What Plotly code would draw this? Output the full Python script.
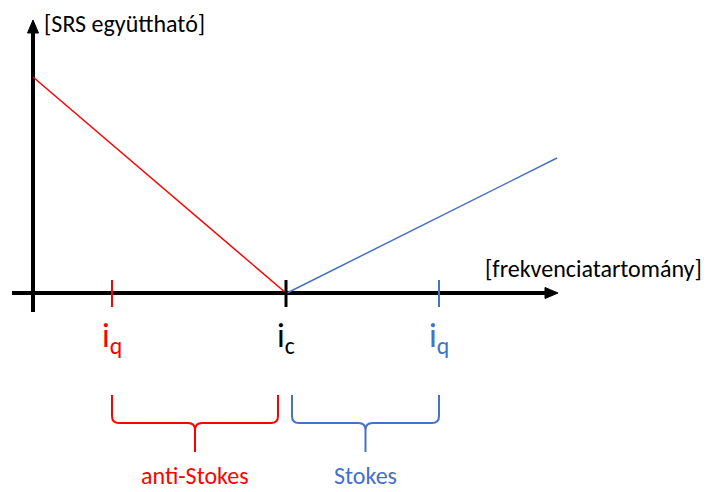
import plotly.graph_objects as go

# schematic units: origin where the two axes cross, 1 unit ~ 1 px, y upward
x_axis_span = [-21, 514]
y_axis_span = [-19, 262]
ic_pos = 253
iq_positions = [79, 406]
iq_colors = ["#FF0000", "#4472C4"]

anti_stokes_x = [0, 253]
anti_stokes_y = [216, 0]
stokes_x = [254, 524]
stokes_y = [0, 135]

brace_spans = [[79, 245], [259, 406]]
brace_labels = ["anti-Stokes", "Stokes"]
brace_colors = ["#FF0000", "#4472C4"]

y_title = "[SRS együttható]"
x_title = "[frekvenciatartomány]"

FONT = "Calibri, Carlito, Lato, sans-serif"
RED = "#FF0000"
BLUE = "#4472C4"

fig = go.Figure()

# axes
fig.add_trace(go.Scatter(x=x_axis_span, y=[0, 0], mode="lines",
                         line=dict(color="black", width=4), hoverinfo="skip"))
fig.add_trace(go.Scatter(x=[0, 0], y=y_axis_span, mode="lines",
                         line=dict(color="black", width=4), hoverinfo="skip"))

# coefficient lines
fig.add_trace(go.Scatter(x=anti_stokes_x, y=anti_stokes_y, mode="lines",
                         line=dict(color=RED, width=1.5), hoverinfo="skip"))
fig.add_trace(go.Scatter(x=stokes_x, y=stokes_y, mode="lines",
                         line=dict(color=BLUE, width=1.5), hoverinfo="skip"))

# ticks
fig.add_trace(go.Scatter(x=[ic_pos, ic_pos], y=[-14, 13], mode="lines",
                         line=dict(color="black", width=3), hoverinfo="skip"))
for xq, col in zip(iq_positions, iq_colors):
    fig.add_trace(go.Scatter(x=[xq, xq], y=[-14, 13], mode="lines",
                             line=dict(color=col, width=2), hoverinfo="skip"))

# arrow heads
xe = x_axis_span[1] + 11
ye = y_axis_span[1] + 11
fig.add_shape(type="path", path=f"M {xe},0 L {xe-13},5.5 L {xe-13},-5.5 Z",
              fillcolor="black", line=dict(color="black", width=1))
fig.add_shape(type="path", path=f"M 0,{ye} L -5.5,{ye-13} L 5.5,{ye-13} Z",
              fillcolor="black", line=dict(color="black", width=1))

# braces
yt, ym, yc, r = -102, -130, -159, 7
for (x0, x1), col, lab in zip(brace_spans, brace_colors, brace_labels):
    xc = (x0 + x1) / 2
    p = (f"M {x0},{yt} L {x0},{ym+r} Q {x0},{ym} {x0+r},{ym} L {xc-r},{ym} "
         f"Q {xc},{ym} {xc},{ym-r} L {xc},{yc} M {xc},{ym-r} Q {xc},{ym} {xc+r},{ym} "
         f"L {x1-r},{ym} Q {x1},{ym} {x1},{ym+r} L {x1},{yt}")
    fig.add_shape(type="path", path=p, line=dict(color=col, width=2))
    fig.add_annotation(x=xc, y=-182, text=lab, showarrow=False,
                       font=dict(family=FONT, size=24, color=col))

# tick labels
fig.add_annotation(x=ic_pos, y=-44, text="i<sub>c</sub>", showarrow=False,
                   font=dict(family=FONT, size=34, color="black"))
for xq, col in zip(iq_positions, iq_colors):
    fig.add_annotation(x=xq, y=-44, text="i<sub>q</sub>", showarrow=False,
                       font=dict(family=FONT, size=34, color=col))

# axis titles
fig.add_annotation(x=9, y=270, text=y_title, showarrow=False, xanchor="left",
                   font=dict(family=FONT, size=24, color="black"))
fig.add_annotation(x=450, y=25, text=x_title, showarrow=False, xanchor="left",
                   font=dict(family=FONT, size=24, color="black"))

# page body keeps an 8px margin, so the figure is 8px smaller and ranges shifted
fig.update_layout(
    width=701, height=484,
    margin=dict(l=0, r=0, t=0, b=0),
    paper_bgcolor="white", plot_bgcolor="white",
    showlegend=False,
    xaxis=dict(range=[-25, 676], visible=False, fixedrange=True),
    yaxis=dict(range=[-199, 285], visible=False, fixedrange=True),
)

fig.write_html("out.html")
